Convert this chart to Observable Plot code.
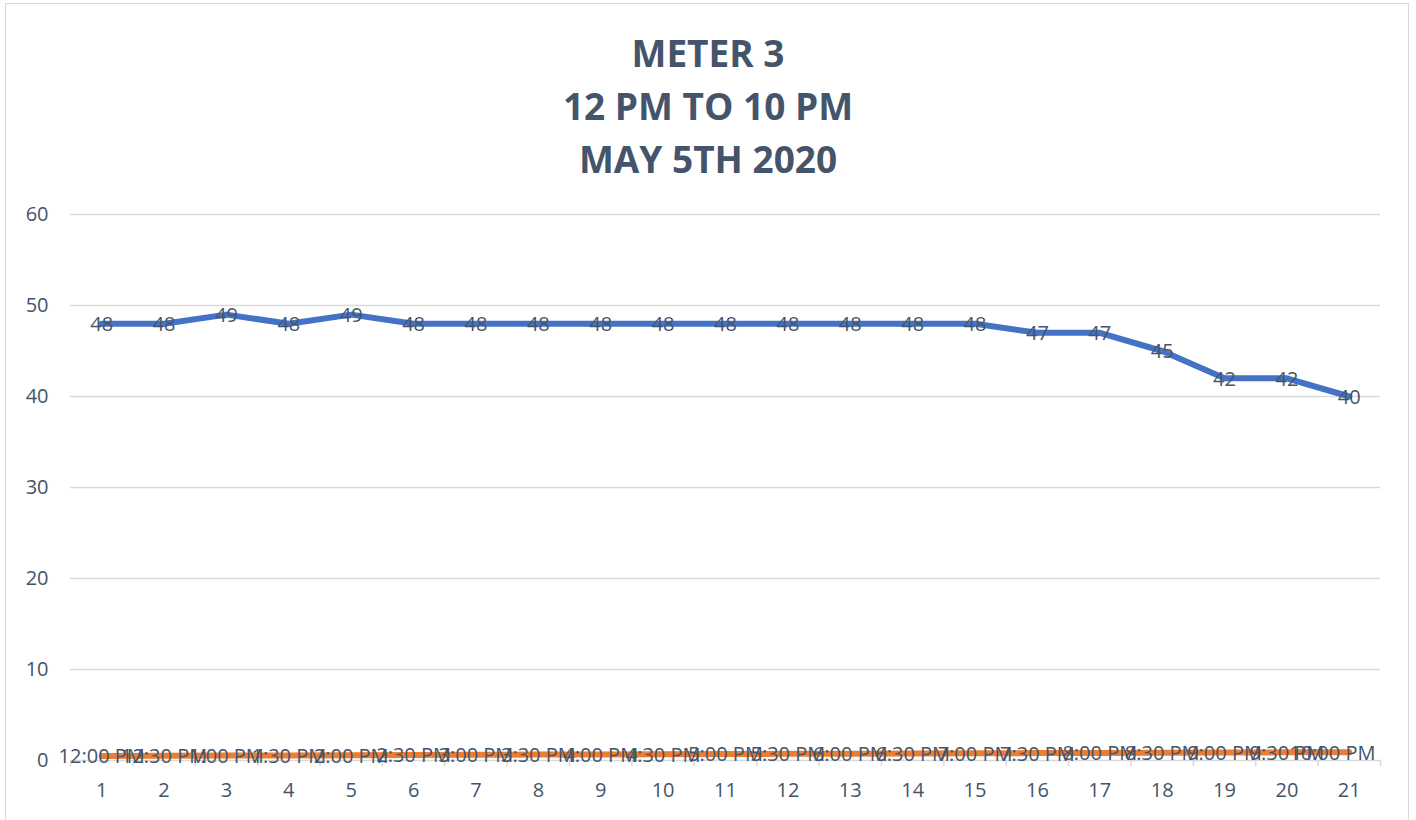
<!DOCTYPE html>
<html>
<head>
<meta charset="utf-8">
<script src="https://cdn.jsdelivr.net/npm/d3@7"></script>
<script src="https://cdn.jsdelivr.net/npm/@observablehq/plot@0.6"></script>
<style>
  html, body { margin: 0; padding: 0; background: #fff; }
  #wrap { position: relative; width: 1416px; height: 820px; overflow: hidden; font-family: "Open Sans", sans-serif; }
  #border { position: absolute; left: 5px; top: 3px; width: 1404px; height: 830px; border: 1px solid #d9d9d9; box-sizing: border-box; pointer-events: none; }
  #title { height: 190px; box-sizing: border-box; padding-top: 26px; text-align: center; color: #44546a; font-weight: 700; font-size: 37px; line-height: 53px; }
</style>
</head>
<body>
<div id="wrap">
  <div id="border"></div>
  <div id="title">METER 3<br>12 PM TO 10 PM<br>MAY 5TH 2020</div>
  <div id="chart"></div>
</div>
<script>
const categories = d3.range(1, 22);
const meterValues = [48, 48, 49, 48, 49, 48, 48, 48, 48, 48, 48, 48, 48, 48, 48, 47, 47, 45, 42, 42, 40];
const timeLabels = ["12:00 PM","12:30 PM","1:00 PM","1:30 PM","2:00 PM","2:30 PM","3:00 PM","3:30 PM","4:00 PM","4:30 PM","5:00 PM","5:30 PM","6:00 PM","6:30 PM","7:00 PM","7:30 PM","8:00 PM","8:30 PM","9:00 PM","9:30 PM","10:00 PM"];
const yTicks = [0, 10, 20, 30, 40, 50, 60];

// Excel stores times as fraction of a day
function dayFraction(s) {
  const [hm, ap] = s.split(" ");
  let [h, m] = hm.split(":").map(Number);
  if (ap === "PM" && h !== 12) h += 12;
  if (ap === "AM" && h === 12) h = 0;
  return (h * 60 + m) / 1440;
}

const meter = categories.map((c, i) => ({x: c, y: meterValues[i], label: String(meterValues[i])}));
const times = categories.map((c, i) => ({x: c, y: dayFraction(timeLabels[i]), label: timeLabels[i]}));
const boundaries = d3.range(0.5, 22, 1);

const textColor = "#44546a";
const grid = "#d9d9d9";

const chart = Plot.plot({
  width: 1416,
  height: 630,
  marginLeft: 70,
  marginRight: 36,
  marginTop: 24,
  marginBottom: 60,
  style: {fontFamily: "Open Sans, sans-serif", fontSize: "20px", color: textColor, background: "transparent", overflow: "visible"},
  x: {domain: [0.5, 21.5], axis: null},
  y: {domain: [0, 60], axis: null},
  marks: [
    Plot.gridY(yTicks.filter(d => d > 0), {stroke: grid, strokeOpacity: 1, strokeWidth: 1.5}),
    Plot.ruleY([0], {stroke: grid, strokeWidth: 1.5}),
    Plot.axisX({ticks: boundaries, tickSize: 6, tickFormat: () => "", label: null, stroke: grid, strokeOpacity: 1, strokeWidth: 1.5}),
    Plot.axisX({ticks: categories, tickSize: 0, tickPadding: 22, tickFormat: d => String(d), label: null, fill: textColor, fontSize: 20}),
    Plot.axisY({ticks: yTicks, tickSize: 0, tickPadding: 22, tickFormat: d => String(d), label: null, fill: textColor, fontSize: 20}),
    Plot.line(times, {x: "x", y: "y", stroke: "#ed7d31", strokeWidth: 6}),
    Plot.line(meter, {x: "x", y: "y", stroke: "#4472c4", strokeWidth: 6, strokeLinejoin: "round"}),
    Plot.text(meter, {x: "x", y: "y", text: "label", fill: textColor, fontSize: 20, dy: 1}),
    Plot.text(times, {filter: (d, i) => i < 20, x: "x", y: "y", text: "label", fill: textColor, fontSize: 20, dy: 1}),
    Plot.text(times, {filter: (d, i) => i === 20, x: "x", y: "y", text: "label", fill: textColor, fontSize: 20, dy: 1, dx: -17})
  ]
});
document.getElementById("chart").appendChild(chart);
</script>
</body>
</html>
